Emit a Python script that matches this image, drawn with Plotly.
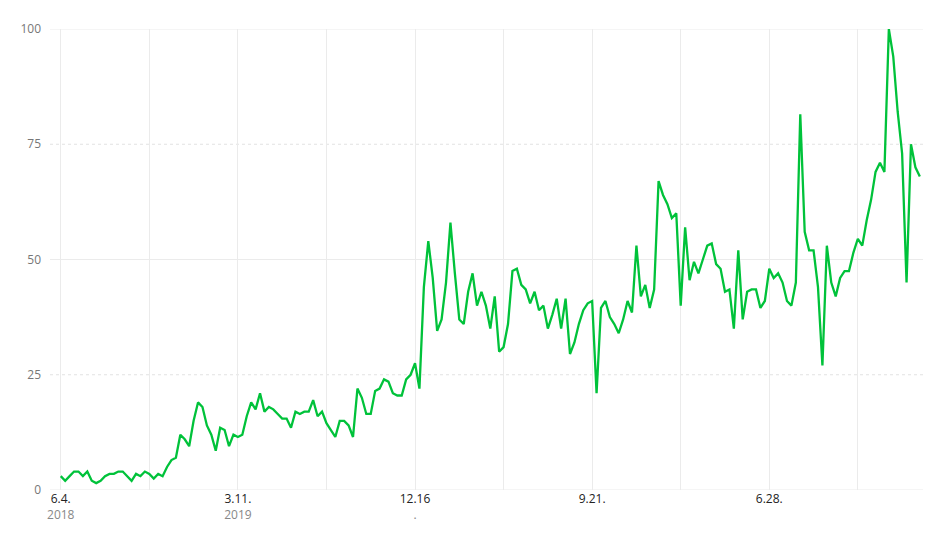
import plotly.graph_objects as go
import pandas as pd

values = [3,2,3,4,4,3,4,2,1.5,2,3,3.5,3.5,4,4,3,2,3.5,3,4,
3.5,2.5,3.5,3,5,6.5,7,12,11,9.5,15,19,18,14,12,8.5,13.5,13,9.5,12,
11.5,12,16,19,17.5,21,17,18,17.5,16.5,15.5,15.5,13.5,17,16.5,17,17,19.5,16,17,
14.5,13,11.5,15,15,14,11.5,22,20,16.5,16.5,21.5,22,24,23.5,21,20.5,20.5,24,25,27.5,
22,44,54,46,34.5,37,45,58,47,37,36,43,47,40,43,40,35,42,30,31,
36,47.5,48,44.5,43.5,40.5,43,39,40,35,38,41.5,35,41.5,29.5,32,36,39,40.5,41,
21,39.5,41,37.5,36,34,37,41,38.5,53,42,44.5,39.5,43.5,67,64,62,59,60,40,
57,45.5,49.5,47,50,53,53.5,49,48,43,43.5,35,52,37,43,43.5,43.5,39.5,41,48,
46,47,45,41,40,45,81.5,56,52,52,44,27,53,45,42,46,47.5,47.5,51.5,54.5,
53,58.5,63,69,71,69,100,94,82,73,45,75,70,68]
dates = pd.date_range("2018-06-04", periods=len(values), freq="7D")
tick_weeks = list(range(0, 200, 20))
tick_main = {0: ("6.4.", "2018"), 40: ("3.11.", "2019"), 80: ("12.16", "."), 120: ("9.21.", ""), 160: ("6.28.", "")}
y_ticks = [0, 25, 50, 75, 100]

tickvals = [pd.Timestamp("2018-06-04") + pd.Timedelta(weeks=w) for w in tick_weeks]
ticktext = []
for w in tick_weeks:
    if w in tick_main:
        a, b = tick_main[w]
        ticktext.append(f"<span style='color:#222'>{a}</span><br><span style='color:#888'>{b}</span>")
    else:
        ticktext.append("")

fig = go.Figure(go.Scatter(x=dates, y=values, mode="lines",
                           line=dict(color="#00c23a", width=2.3), hoverinfo="skip"))
for yv in [25, 75]:
    fig.add_shape(type="line", xref="paper", x0=0, x1=1, y0=yv, y1=yv,
                  line=dict(color="#e2e2e2", width=1, dash="dot"), layer="below")
fig.update_layout(
    width=940, height=536, margin=dict(l=37, r=25, t=14, b=54),
    plot_bgcolor="white", paper_bgcolor="white", showlegend=False,
    font=dict(family="Open Sans, sans-serif", size=12, color="#777"),
    xaxis=dict(tickvals=tickvals, ticktext=ticktext, showgrid=True, gridcolor="#ebebeb",
               range=[dates[0] - pd.Timedelta(days=17), dates[-1] + pd.Timedelta(days=5)],
               zeroline=False, showline=False, ticks=""),
    yaxis=dict(range=[0, 100], tickvals=y_ticks, showgrid=False, zeroline=False,
               showline=False, ticks="", ticklabelstandoff=8),
)
for yv in [0, 50, 100]:
    fig.add_shape(type="line", xref="paper", x0=0, x1=1, y0=yv, y1=yv,
                  line=dict(color="#ebebeb", width=1), layer="below")
fig.write_html("out.html")
